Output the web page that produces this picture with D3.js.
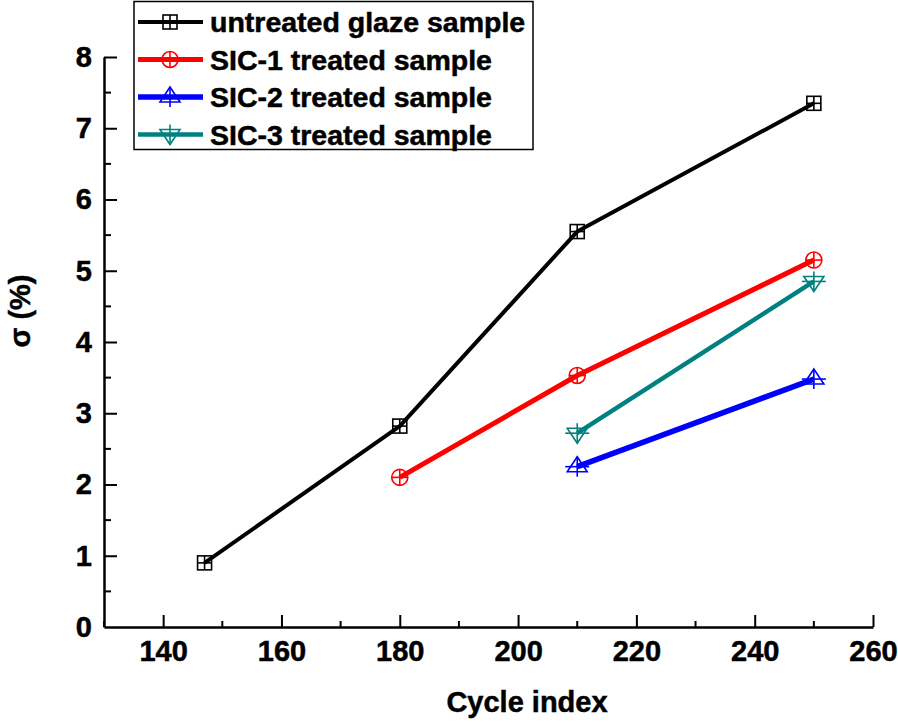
<!DOCTYPE html>
<html><head><meta charset="utf-8">
<script src="https://cdn.jsdelivr.net/npm/d3@7"></script>
<style>body{margin:0;background:#fff}svg{display:block}text{font-family:"Liberation Sans",Arial,sans-serif;font-weight:bold;stroke:#000;stroke-width:0.5px;fill:#000}</style>
</head><body>
<script>
const untreatedX = [147, 180, 210, 250];
const untreatedY = [0.9, 2.82, 5.55, 7.35];
const sic1X = [180, 210, 250];
const sic1Y = [2.1, 3.53, 5.15];
const sic2X = [210, 250];
const sic2Y = [2.25, 3.48];
const sic3X = [210, 250];
const sic3Y = [2.72, 4.85];
const seriesNames = ["untreated glaze sample", "SIC-1 treated sample", "SIC-2 treated sample", "SIC-3 treated sample"];
const xTicks = [140, 160, 180, 200, 220, 240, 260];
const yTicks = [0, 1, 2, 3, 4, 5, 6, 7, 8];

const series = [
  {name: seriesNames[0], xs: untreatedX, ys: untreatedY, color: "#000000", w: 4, marker: "square"},
  {name: seriesNames[1], xs: sic1X, ys: sic1Y, color: "#ff0000", w: 5, marker: "circle"},
  {name: seriesNames[2], xs: sic2X, ys: sic2Y, color: "#0000ff", w: 5.5, marker: "up"},
  {name: seriesNames[3], xs: sic3X, ys: sic3Y, color: "#008080", w: 4.5, marker: "down"}
];

const W = 898, H = 724;
const svg = d3.select("body").append("svg").attr("width", W).attr("height", H);
const x = d3.scaleLinear().domain([130, 260]).range([104, 873]);
const y = d3.scaleLinear().domain([0, 8]).range([627, 57]);

// minor ticks
const xMinor = d3.range(130, 261, 10).filter(v => v % 20 !== 0);
const yMinor = d3.range(0.5, 8, 1);
const g = svg.append("g");
xMinor.forEach(v => g.append("line").attr("x1", x(v)).attr("x2", x(v)).attr("y1", 627).attr("y2", 621).attr("stroke", "#000").attr("stroke-width", 2));
yMinor.forEach(v => g.append("line").attr("x1", 104).attr("x2", 111).attr("y1", y(v)).attr("y2", y(v)).attr("stroke", "#000").attr("stroke-width", 2));

// axes
const xAxis = svg.append("g").attr("transform", "translate(0,627)")
  .call(d3.axisBottom(x).tickValues(xTicks).tickSize(-12).tickPadding(26).tickSizeOuter(0));
const yAxis = svg.append("g").attr("transform", "translate(104,0)")
  .call(d3.axisLeft(y).tickValues(yTicks).tickSize(-13).tickPadding(26).tickSizeOuter(0));
[xAxis, yAxis].forEach(a => {
  a.select(".domain").attr("stroke", "#000").attr("stroke-width", 2.5);
  a.selectAll(".tick line").attr("stroke", "#000").attr("stroke-width", 2);
  a.selectAll(".tick text").attr("font-size", 29).style("font-size", "29px");
});
xAxis.selectAll(".tick text").attr("dy", "0.71em").attr("y", 13);
yAxis.selectAll(".tick text").attr("x", -12);
yAxis.selectAll(".tick").filter(d => d === 0).select("line").remove();

svg.append("text").attr("x", 527).attr("y", 712).attr("text-anchor", "middle").attr("font-size", 29).text("Cycle index");
svg.append("text").attr("transform", "translate(30,311) rotate(-90)").attr("text-anchor", "middle").attr("font-size", 29).text("σ (%)");

function drawMarker(sel, type, cx, cy, color) {
  const gm = sel.append("g").attr("stroke", color).attr("fill", "none").attr("stroke-width", 1.6);
  if (type === "square") {
    const s = 7;
    gm.append("rect").attr("x", cx - s).attr("y", cy - s).attr("width", 2 * s).attr("height", 2 * s);
    gm.append("line").attr("x1", cx - s).attr("x2", cx + s).attr("y1", cy).attr("y2", cy);
    gm.append("line").attr("x1", cx).attr("x2", cx).attr("y1", cy - s).attr("y2", cy + s);
  } else if (type === "circle") {
    const r = 8;
    gm.append("circle").attr("cx", cx).attr("cy", cy).attr("r", r);
    gm.append("line").attr("x1", cx - r).attr("x2", cx + r).attr("y1", cy).attr("y2", cy);
    gm.append("line").attr("x1", cx).attr("x2", cx).attr("y1", cy - r).attr("y2", cy + r);
  } else if (type === "up") {
    const s = 10;
    gm.append("path").attr("d", `M${cx},${cy - s}L${cx + s},${cy + 5}L${cx - s},${cy + 5}Z`);
    gm.append("line").attr("x1", cx - s - 2).attr("x2", cx + s + 2).attr("y1", cy).attr("y2", cy);
    gm.append("line").attr("x1", cx).attr("x2", cx).attr("y1", cy - s).attr("y2", cy + s);
  } else {
    const s = 10;
    gm.append("path").attr("d", `M${cx},${cy + s}L${cx + s},${cy - 5}L${cx - s},${cy - 5}Z`);
    gm.append("line").attr("x1", cx - s - 2).attr("x2", cx + s + 2).attr("y1", cy).attr("y2", cy);
    gm.append("line").attr("x1", cx).attr("x2", cx).attr("y1", cy - s).attr("y2", cy + s);
  }
}

const line = d3.line().x(d => x(d[0])).y(d => y(d[1]));
series.forEach(s => {
  const pts = s.xs.map((v, i) => [v, s.ys[i]]);
  svg.append("path").datum(pts).attr("d", line).attr("fill", "none").attr("stroke", s.color).attr("stroke-width", s.w).attr("stroke-linejoin", "round");
  pts.forEach(p => drawMarker(svg, s.marker, x(p[0]), y(p[1]), s.color));
});

// legend
const lg = svg.append("g");
lg.append("rect").attr("x", 134).attr("y", 1.5).attr("width", 399).attr("height", 148).attr("fill", "#fff").attr("stroke", "#000").attr("stroke-width", 1.5);
series.forEach((s, i) => {
  const ly = 22 + i * 37.5;
  lg.append("line").attr("x1", 138).attr("x2", 203).attr("y1", ly).attr("y2", ly).attr("stroke", s.color).attr("stroke-width", s.w);
  drawMarker(lg, s.marker, 170, ly, s.color);
  lg.append("text").attr("x", 210).attr("y", ly + 10).attr("font-size", 28.5).text(s.name);
});
</script>
</body></html>
